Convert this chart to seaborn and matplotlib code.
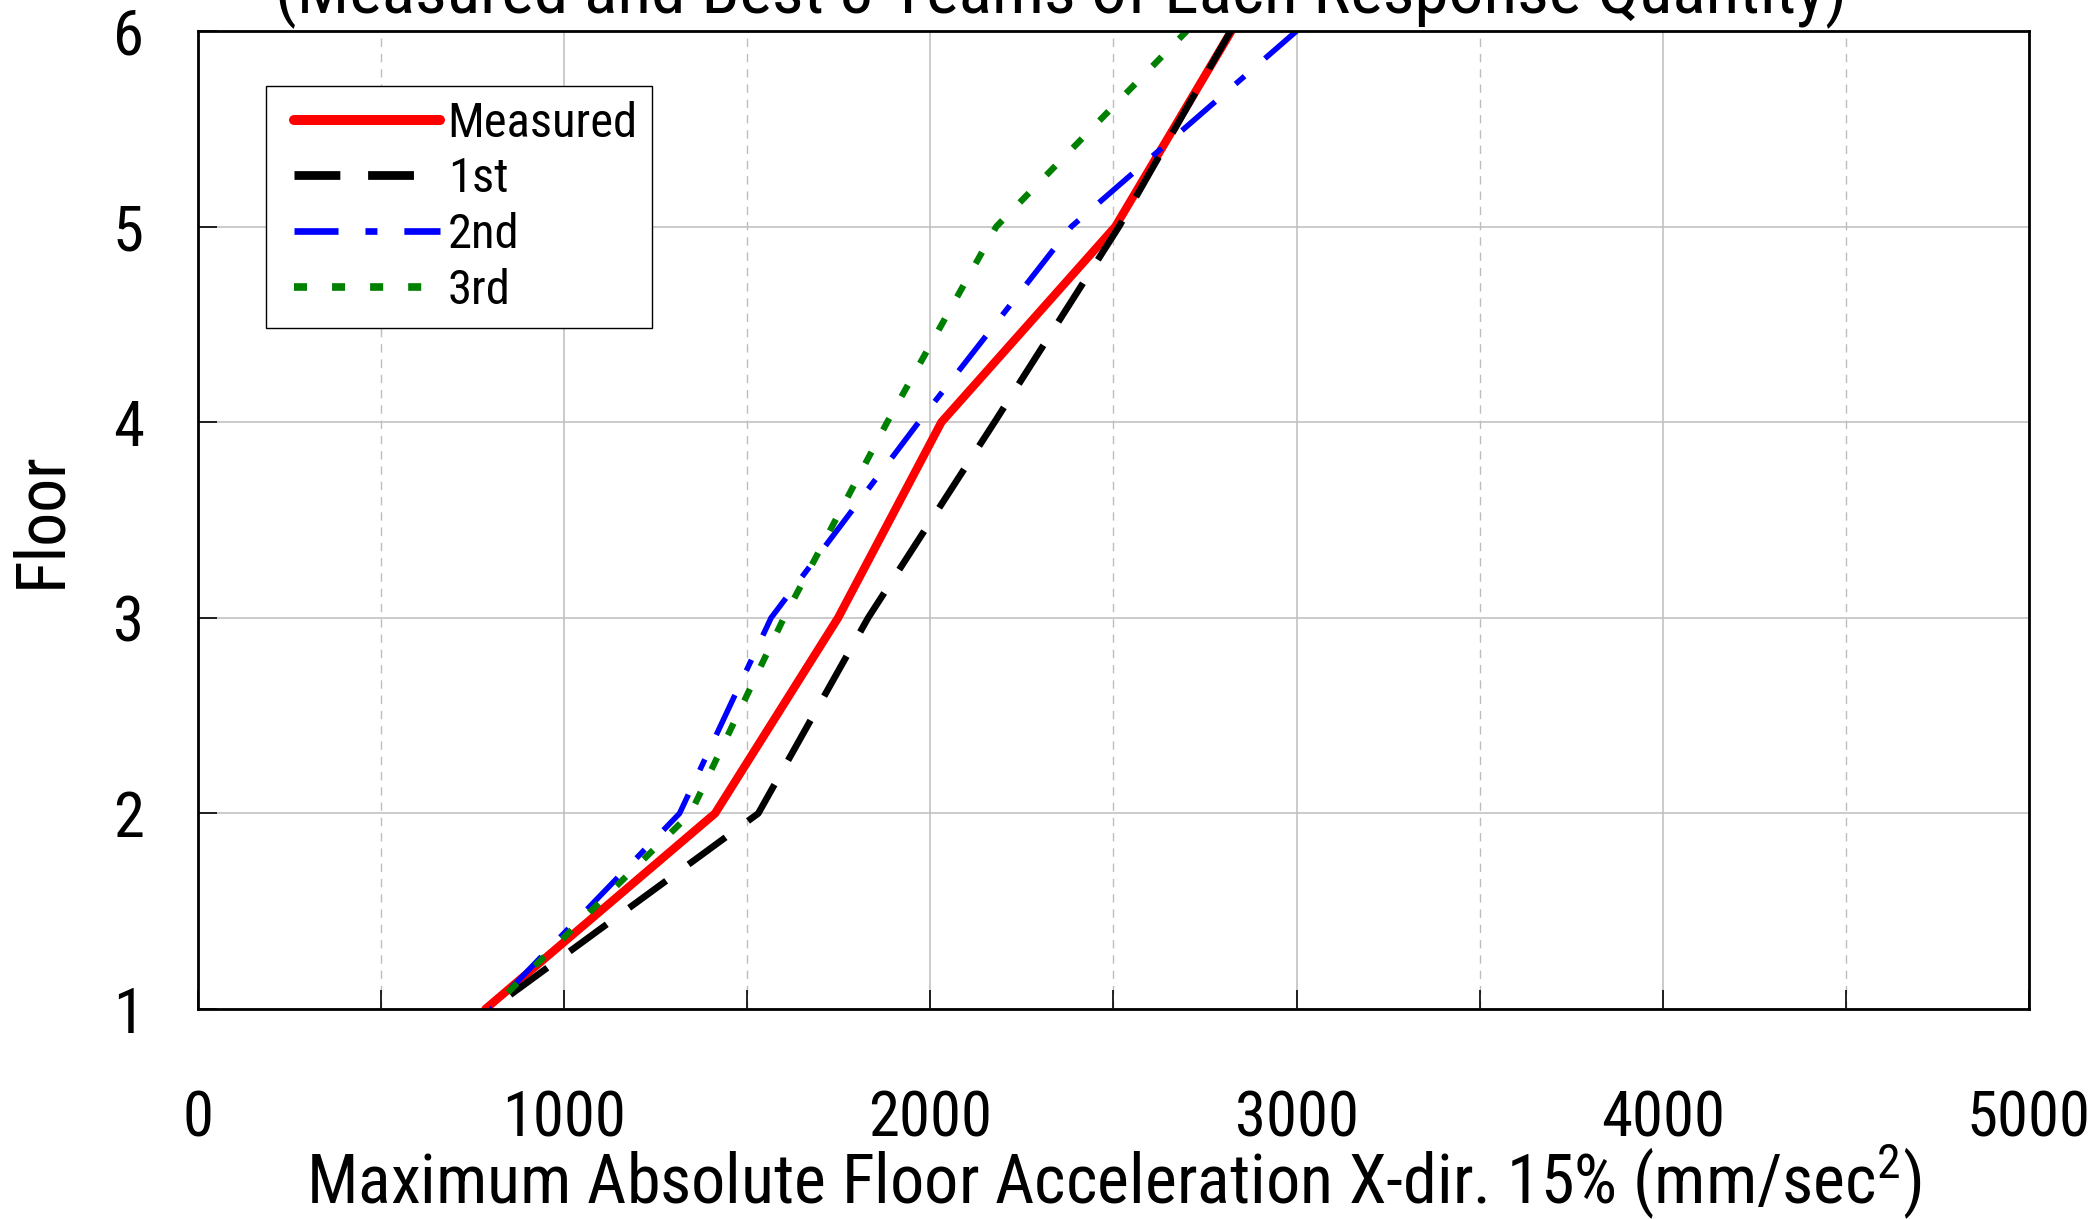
import os
import matplotlib
matplotlib.use("Agg")
import matplotlib.pyplot as plt
import numpy as np
import pandas as pd
import seaborn as sns
from matplotlib import font_manager
from matplotlib.legend_handler import HandlerLine2D
from matplotlib.ticker import FixedLocator, MultipleLocator

# Floor levels and peak absolute floor accelerations (mm/sec^2)
floors = [1, 2, 3, 4, 5, 6]
measured = [785, 1412, 1748, 2030, 2505, 2822]
team_1st = [800, 1530, 1830, 2175, 2515, 2820]
team_2nd = [800, 1315, 1565, 1968, 2385, 3000]
team_3rd = [800, 1345, 1600, 1882, 2180, 2700]

series_labels = ["Measured", "1st", "2nd", "3rd"]
x_ticks = [0, 1000, 2000, 3000, 4000, 5000]
y_ticks = [1, 2, 3, 4, 5, 6]

TITLE = "(Measured and Best 3 Teams of Each Response Quantity)"
XLABEL = "Maximum Absolute Floor Acceleration X-dir. 15% (mm/sec$^2$)"


def pick_narrow_font():
    """Prefer a narrow / condensed sans face; fall back to Liberation Sans."""
    entries = font_manager.fontManager.ttflist
    names = {f.name for f in entries}
    for n in ["Liberation Sans Narrow", "Arial Narrow", "Roboto Condensed",
              "Open Sans Condensed", "DejaVu Sans Condensed", "Noto Sans Condensed"]:
        if n in names:
            return n, "normal"
    for f in entries:
        if ("Narrow" in f.name or "Condensed" in f.name) and f.style == "normal":
            return f.name, "normal"
    for f in entries:
        base = os.path.basename(f.fname)
        if (str(f.stretch) in ("condensed", "semi-condensed", "extra-condensed")
                or "Condensed" in base or "Narrow" in base) and f.style == "normal":
            st = f.stretch if isinstance(f.stretch, str) else "condensed"
            return f.name, st
    return "Liberation Sans", "normal"


sns.set_theme(style="white")
font_name, font_stretch = pick_narrow_font()
plt.rcParams["font.family"] = [font_name, "DejaVu Sans"]
plt.rcParams["font.stretch"] = font_stretch
plt.rcParams["mathtext.fontset"] = "custom"
plt.rcParams["mathtext.rm"] = font_name
plt.rcParams["mathtext.it"] = font_name
plt.rcParams["mathtext.bf"] = font_name
plt.rcParams["lines.scale_dashes"] = False
for key in ["text.color", "axes.labelcolor", "xtick.color", "ytick.color"]:
    plt.rcParams[key] = "black"

fig = plt.figure(figsize=(20.97, 12.19), dpi=100)
fig.patch.set_facecolor("white")
renderer = fig.canvas.get_renderer()


def size_for_width(text, width_px, base=40.0):
    """Font size at which `text` spans roughly `width_px` pixels."""
    t = fig.text(0, 0, text, fontsize=base)
    w = t.get_window_extent(renderer).width
    t.remove()
    return base * width_px / w


tick_fs = size_for_width("1000", 124)
label_fs = size_for_width(XLABEL, 1615)
legend_fs = size_for_width("Measured", 190)
title_fs = size_for_width(TITLE, 1572)
legend_px = legend_fs * 100 / 72

ax = fig.add_axes([0.09442, 0.17227, 0.87315, 0.80230])
ax.set_facecolor("white")

styles = [
    (measured, "#ff0000", 6.0, None, 7.2),
    (team_1st, "#000000", 4.8, [33, 20], 6.3),
    (team_2nd, "#0000ff", 4.0, [31.7, 19.4, 8.6, 19.4], 4.8),
    (team_3rd, "#008000", 4.6, [9.4, 18], 5.5),
]

ax.set_xlim(0, 5000)
ax.set_ylim(1, 6)

for label, (vals, color, lw, dash, _) in zip(series_labels, styles):
    df = pd.DataFrame({"acc": vals, "floor": floors})
    if dash is None:
        ls = "-"
    else:
        # phase the dash pattern so that the line finishes on a dash at the top floor
        pts = ax.transData.transform(np.column_stack([vals, floors]))
        length_pt = np.hypot(*np.diff(pts, axis=0).T).sum() * 72 / 100
        offset = (dash[0] - 1.5 - length_pt) % sum(dash)
        ls = (offset, tuple(dash))
    sns.lineplot(data=df, x="acc", y="floor", sort=False, estimator=None,
                 color=color, linewidth=lw, linestyle=ls, label=label, ax=ax)

# Grid: solid at major positions, dashed at the 500 steps
ax.xaxis.set_major_locator(FixedLocator(x_ticks))
ax.xaxis.set_minor_locator(MultipleLocator(500))
ax.yaxis.set_major_locator(FixedLocator(y_ticks))
ax.set_xticklabels([str(v) for v in x_ticks])
ax.set_yticklabels([str(v) for v in y_ticks])
ax.grid(which="major", axis="both", color="#bdbdbd", linewidth=1.1, linestyle="-")
ax.grid(which="minor", axis="x", color="#bdbdbd", linewidth=1.0, linestyle=(0, (6, 5)))
ax.set_axisbelow(True)

ax.tick_params(axis="x", which="both", direction="in", length=14, width=1.2,
               color="black", bottom=True, top=False, pad=58, labelsize=tick_fs)
ax.tick_params(axis="x", which="minor", labelbottom=False)
ax.tick_params(axis="y", which="major", direction="in", length=14, width=1.2,
               color="black", left=True, right=False, pad=39, labelsize=tick_fs)

for side in ["left", "right", "top", "bottom"]:
    ax.spines[side].set_visible(True)
    ax.spines[side].set_color("black")
    ax.spines[side].set_linewidth(2.0)

ax.set_xlabel(XLABEL, fontsize=label_fs, color="black")
ax.xaxis.set_label_coords(0.5, -0.1984)
ax.xaxis.label.set_va("baseline")

ax.set_ylabel("Floor", fontsize=tick_fs * 1.08, color="black")
ax.yaxis.set_label_coords(-0.0753, 0.5)
ax.yaxis.label.set_va("baseline")

fig.text(0.506, 1 - 12 / 1219, TITLE, ha="center", va="baseline",
         fontsize=title_fs, color="black")

# Legend: box at the upper left, handles inset from the frame
borderpad = 0.3
handle_start = 294 - (266 + borderpad * legend_px)
handle_xpad = handle_start / legend_px
handle_len = (440 - (266 + borderpad * legend_px)) / legend_px
leg = ax.legend(loc="upper left", bbox_to_anchor=(0.0371, 0.9438), borderaxespad=0,
                fontsize=legend_fs, frameon=True, fancybox=False, shadow=False,
                framealpha=1, edgecolor="black", handlelength=handle_len,
                handletextpad=0.16, labelspacing=0.2, borderpad=borderpad,
                handler_map={matplotlib.lines.Line2D: HandlerLine2D(xpad=handle_xpad)})
leg.get_frame().set_linewidth(1.0)
for line, (_, _, _, dash, leg_lw) in zip(leg.get_lines(), styles):
    line.set_linewidth(leg_lw)
    if dash is not None:
        line.set_linestyle((0, tuple(dash)))

fig.savefig("out.png", dpi=100, facecolor="white")
